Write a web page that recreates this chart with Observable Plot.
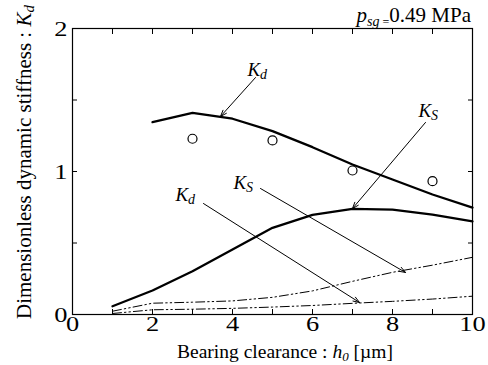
<!DOCTYPE html>
<html><head><meta charset="utf-8">
<script src="https://cdn.jsdelivr.net/npm/d3@7"></script>
<script src="https://cdn.jsdelivr.net/npm/@observablehq/plot@0.6"></script>
<style>body{margin:0;background:#fff} svg{display:block} svg text{font-family:'Liberation Serif','Times New Roman',serif !important}</style>
</head><body><div id="chart"></div>
<script>
// ---- data ----
const h0 = [1, 2, 3, 4, 5, 6, 7, 8, 9, 10];
const kdCalcH = [2, 3, 4, 5, 6, 7, 8, 9, 10];
const kdCalc = [1.345, 1.41, 1.369, 1.282, 1.17, 1.049, 0.944, 0.839, 0.748];
const ksCalc = [0.058, 0.168, 0.303, 0.455, 0.606, 0.697, 0.739, 0.734, 0.699, 0.652];
const ksLow = [0.023, 0.079, 0.086, 0.095, 0.12, 0.165, 0.232, 0.295, 0.345, 0.40];
const kdLow = [0.007, 0.033, 0.037, 0.043, 0.052, 0.063, 0.078, 0.092, 0.108, 0.128];
const expH = [3, 5, 7, 9];
const kdExp = [1.229, 1.217, 1.007, 0.932];
const xTickLabels = [0, 2, 4, 6, 8, 10];
const xTicks = [1, 2, 3, 4, 5, 6, 7, 8, 9];
const yTickLabels = [0, 1, 2];
const yTicks = [0.5, 1, 1.5];
// annotations
const labelX = [4.375, 8.65, 2.575, 4.025];
const labelY = [1.671, 1.378, 0.797, 0.881];
const labelSub = ["d", "S", "d", "S"];
const arrowX1 = [4.575, 8.825, 3.275, 4.7];
const arrowY1 = [1.657, 1.343, 0.776, 0.881];
const arrowX2 = [3.7, 7.0, 7.175, 8.325];
const arrowY2 = [1.385, 0.741, 0.084, 0.294];
const xTitle = ["Bearing clearance : ", "h", "0", " [\u00b5m]"];
const yTitle = ["Dimensionless dynamic stiffness : ", "K", "d"];
const note = ["p", "sg", " =", "0.49 MPa"];

// ---- tables ----
const tbl = (xs, ys) => xs.map((x, i) => ({x, y: ys[i]}));
const kdCalcT = tbl(kdCalcH, kdCalc);
const ksCalcT = tbl(h0, ksCalc);
const ksLowT = tbl(h0, ksLow);
const kdLowT = tbl(h0, kdLow);
const expT = tbl(expH, kdExp);
const labels = labelX.map((x, i) => ({x, y: labelY[i], sub: labelSub[i]}));
const arrows = arrowX1.map((x1, i) => ({x1, y1: arrowY1[i], x2: arrowX2[i], y2: arrowY2[i]}));

const FF = "'Liberation Serif', 'Times New Roman', serif";
const dashDot = "9,3,1.5,3,1.5,3";

const chart = Plot.plot({
  width: 488, height: 365,
  marginLeft: 72, marginRight: 16, marginTop: 28, marginBottom: 51,
  style: {fontFamily: FF, background: "white", color: "black"},
  x: {domain: [0, 10]},
  y: {domain: [0, 2]},
  marks: [
    Plot.axisX(xTicks, {anchor: "bottom", tickSize: -5, tickFormat: () => "", label: null, strokeWidth: 1}),
    Plot.axisX(xTicks, {anchor: "top", tickSize: -5, tickFormat: () => "", label: null, strokeWidth: 1}),
    Plot.axisY(yTicks, {anchor: "left", tickSize: -5, tickFormat: () => "", label: null, strokeWidth: 1}),
    Plot.axisY(yTicks, {anchor: "right", tickSize: -5, tickFormat: () => "", label: null, strokeWidth: 1}),
    Plot.axisX(xTickLabels, {anchor: "bottom", tickSize: 0, tickPadding: 1, fontSize: 22, label: null, tickFormat: d => String(d)}),
    Plot.axisY(yTickLabels, {anchor: "left", tickSize: 0, tickPadding: 5, fontSize: 22, label: null, tickFormat: d => String(d)}),
    Plot.line(kdCalcT, {x: "x", y: "y", stroke: "black", strokeWidth: 2.3}),
    Plot.line(ksCalcT, {x: "x", y: "y", stroke: "black", strokeWidth: 2.3}),
    Plot.line(ksLowT, {x: "x", y: "y", stroke: "black", strokeWidth: 1, strokeDasharray: dashDot}),
    Plot.line(kdLowT, {x: "x", y: "y", stroke: "black", strokeWidth: 1, strokeDasharray: dashDot}),
    Plot.dot(expT, {x: "x", y: "y", r: 4.5, stroke: "black", fill: "white", strokeWidth: 1.2}),
    Plot.arrow(arrows, {x1: "x1", y1: "y1", x2: "x2", y2: "y2", stroke: "black", strokeWidth: 1, headLength: 10, headAngle: 40}),
    Plot.text(labels, {x: "x", y: "y", text: () => "K", textAnchor: "start", lineAnchor: "bottom", fontStyle: "italic", fontSize: 19, fill: "black"}),
    Plot.text(labels, {x: "x", y: "y", text: "sub", dx: 12.5, dy: 3, textAnchor: "start", lineAnchor: "bottom", fontStyle: "italic", fontSize: 14, fill: "black"}),
    Plot.frame({stroke: "black", strokeWidth: 1.2})
  ]
});
document.getElementById("chart").appendChild(chart);

const svg = d3.select(chart);
const xs = chart.scale("x"), ys = chart.scale("y");

// stretch tick labels horizontally like the reference
svg.selectAll("g[aria-label='x-axis tick label'] text, g[aria-label='y-axis tick label'] text")
  .attr("transform", function() { return (this.getAttribute("transform") || "") + " scale(1.2,1)"; });

// x title
const xt = svg.append("text")
  .attr("x", (xs.apply(0) + xs.apply(10)) / 2 + 13).attr("y", 358)
  .attr("text-anchor", "middle").attr("font-size", 19.5).attr("fill", "black");
xt.append("tspan").text(xTitle[0]);
xt.append("tspan").attr("font-style", "italic").text(xTitle[1]);
xt.append("tspan").attr("font-style", "italic").attr("font-size", 13).attr("dy", 3).text(xTitle[2]);
xt.append("tspan").attr("dy", -3).text(xTitle[3]);

// y title
const yt = svg.append("text")
  .attr("transform", `translate(31,${(ys.apply(0) + ys.apply(2)) / 2 - 9}) rotate(-90)`)
  .attr("text-anchor", "middle").attr("font-size", 21).attr("fill", "black");
yt.append("tspan").text(yTitle[0]);
yt.append("tspan").attr("font-style", "italic").text(yTitle[1]);
yt.append("tspan").attr("font-style", "italic").attr("font-size", 15).attr("dy", 3).text(yTitle[2]);

// top-right note
const nt = svg.append("text")
  .attr("x", xs.apply(10) - 1).attr("y", 22)
  .attr("text-anchor", "end").attr("font-size", 21).attr("fill", "black");
nt.append("tspan").attr("font-style", "italic").text(note[0]);
nt.append("tspan").attr("font-style", "italic").attr("font-size", 14).attr("dy", 4).text(note[1]);
nt.append("tspan").attr("font-size", 12).text(note[2]);
nt.append("tspan").attr("dy", -4).text(note[3]);
</script>
</body></html>
